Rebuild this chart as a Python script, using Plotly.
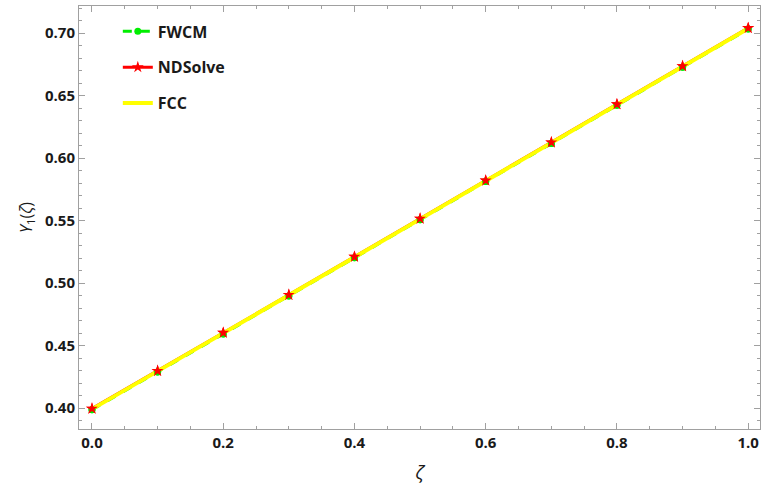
import plotly.graph_objects as go

zeta = [0.0, 0.1, 0.2, 0.3, 0.4, 0.5, 0.6, 0.7, 0.8, 0.9, 1.0]
fwcm = [0.3987, 0.4288, 0.4593, 0.4897, 0.5202, 0.5507, 0.5812, 0.6117, 0.6422, 0.6727, 0.7032]
ndsolve = [0.3995, 0.4297, 0.4602, 0.4905, 0.5210, 0.5515, 0.5820, 0.6125, 0.6430, 0.6735, 0.7040]
fcc = [0.3991, 0.4293, 0.4598, 0.4901, 0.5206, 0.5511, 0.5816, 0.6121, 0.6426, 0.6731, 0.7036]

x_ticks = [0.0, 0.2, 0.4, 0.6, 0.8, 1.0]
x_tick_labels = ["0.0", "0.2", "0.4", "0.6", "0.8", "1.0"]
y_ticks = [0.40, 0.45, 0.50, 0.55, 0.60, 0.65, 0.70]
y_tick_labels = ["0.40", "0.45", "0.50", "0.55", "0.60", "0.65", "0.70"]

GREEN = "#00ee00"
RED = "#ff0000"
YELLOW = "#ffff00"
FONT = "Open Sans"

fig = go.Figure()
fig.add_trace(go.Scatter(x=zeta, y=fwcm, name="FWCM", mode="lines+markers",
                         line=dict(color=GREEN, width=3, dash="dash"),
                         marker=dict(symbol="circle", size=7, color=GREEN),
                         legendgroup="a", legendrank=1))
fig.add_trace(go.Scatter(x=zeta, y=ndsolve, name="NDSolve", mode="lines+markers",
                         line=dict(color=RED, width=3),
                         marker=dict(symbol="star", size=9, color=RED),
                         legendgroup="b", legendrank=2))
fig.add_trace(go.Scatter(x=zeta, y=fcc, name="FCC", mode="lines",
                         line=dict(color=YELLOW, width=4),
                         legendgroup="c", legendrank=3))
fig.add_trace(go.Scatter(x=zeta, y=fwcm, mode="markers", showlegend=False,
                         marker=dict(symbol="circle", size=7, color=GREEN)))
fig.add_trace(go.Scatter(x=zeta, y=ndsolve, mode="markers", showlegend=False,
                         marker=dict(symbol="star", size=9, color=RED)))

axis_common = dict(showgrid=False, zeroline=False, showline=True, linecolor="#a0a0a0",
                   linewidth=1, mirror="ticks", ticks="inside", ticklen=6, tickwidth=1,
                   tickcolor="#a0a0a0",
                   tickfont=dict(family=FONT, size=15, color="#1a1a1a", weight="bold"))

fig.update_xaxes(range=[-0.0198, 1.018], tickvals=x_ticks, ticktext=x_tick_labels,
                 minor=dict(dtick=0.05, ticks="inside", ticklen=3, tickcolor="#a0a0a0"),
                 title=dict(text="<i>ζ</i>", font=dict(family=FONT, size=19, color="#1a1a1a"),
                            standoff=14),
                 **axis_common)
fig.update_yaxes(range=[0.3832, 0.7216], tickvals=y_ticks, ticktext=y_tick_labels,
                 minor=dict(dtick=0.01, ticks="inside", ticklen=3, tickcolor="#a0a0a0"),
                 title=dict(text="<i>Y</i><sub>1</sub>(<i>ζ</i>)",
                            font=dict(family=FONT, size=16, color="#1a1a1a"), standoff=8),
                 **axis_common)

fig.update_layout(
    width=762, height=494,
    margin=dict(l=79, r=2, t=6, b=65),
    plot_bgcolor="white", paper_bgcolor="white",
    legend=dict(x=0.057, y=0.98, xanchor="left", yanchor="top",
                bgcolor="rgba(0,0,0,0)", tracegroupgap=12,
                font=dict(family=FONT, size=16, color="#1a1a1a", weight="bold")),
)

fig.write_html("out.html")
